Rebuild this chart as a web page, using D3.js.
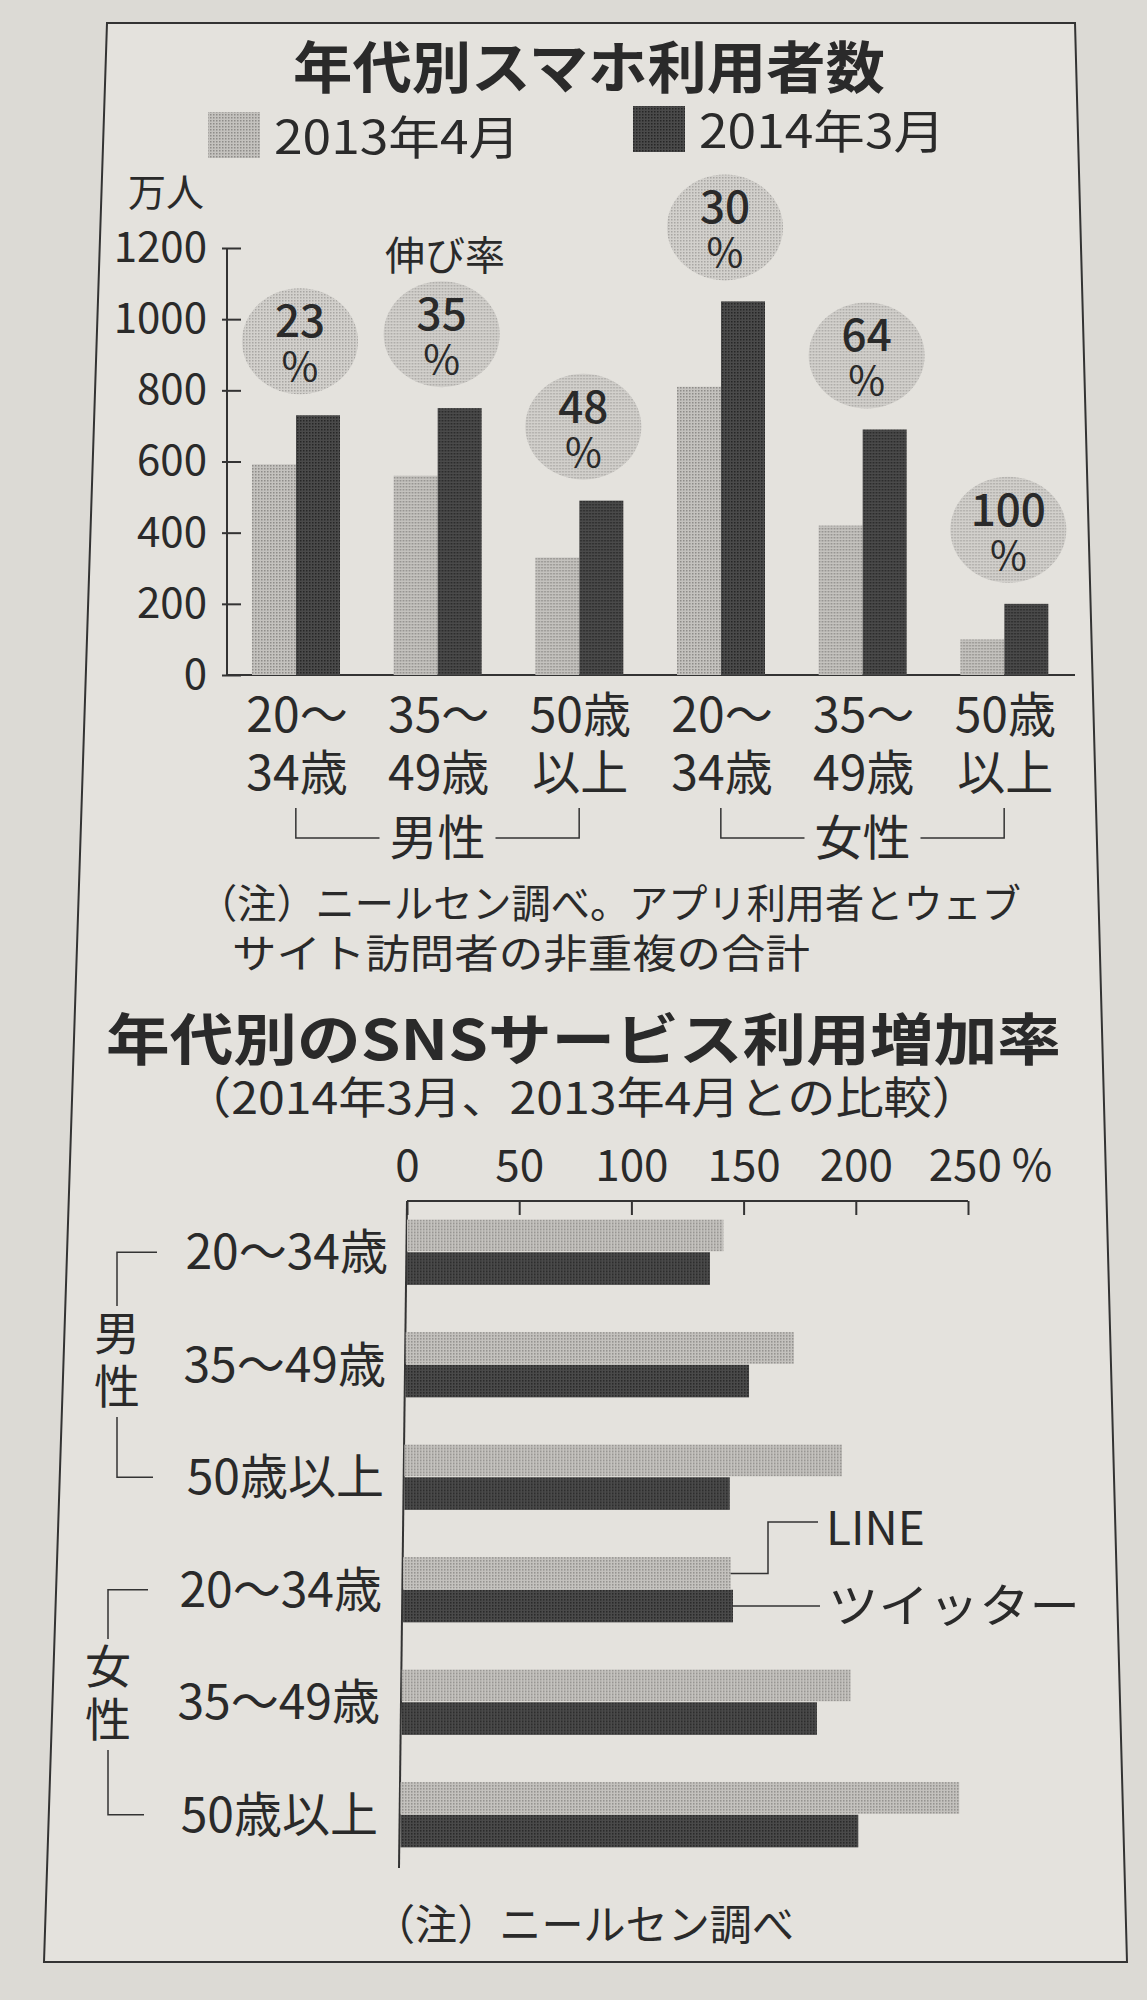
<!DOCTYPE html>
<html>
<head>
<meta charset="utf-8">
<script src="https://cdn.jsdelivr.net/npm/d3@7"></script>
<style>
  body { margin: 0; background: #dcdad5; }
  svg { display: block; }
  text { font-family: "Noto Sans CJK JP", "Noto Sans", sans-serif; fill: #2a2a2a; }
</style>
</head>
<body>
<svg id="chart" width="1147" height="2000"></svg>
<script>
  // data: top chart
  var ageGroups = ['20～|34歳', '35～|49歳', '50歳|以上', '20～|34歳', '35～|49歳', '50歳|以上'];
  var users2013 = [592, 560, 330, 810, 420, 100];
  var users2014 = [730, 750, 490, 1050, 690, 200];
  var growthRates = [23, 35, 48, 30, 64, 100];
  var yTicks = [0, 200, 400, 600, 800, 1000, 1200];
  var legendLabels = ['2013年4月', '2014年3月'];

  // data: bottom chart
  var snsAges = ['20～34歳', '35～49歳', '50歳以上', '20～34歳', '35～49歳', '50歳以上'];
  var lineRates = [141, 173, 195, 146, 200, 249];
  var twitterRates = [135, 153, 145, 147, 185, 204];
  var xTicks = [0, 50, 100, 150, 200, 250];

  var svg = d3.select('#chart');
  var defs = svg.append('defs');

  function dotPattern(id, bg, dot) {
    var p = defs.append('pattern').attr('id', id)
      .attr('width', 3).attr('height', 3).attr('patternUnits', 'userSpaceOnUse');
    p.append('rect').attr('width', 3).attr('height', 3).attr('fill', bg);
    p.append('rect').attr('width', 1.5).attr('height', 1.5).attr('fill', dot);
  }
  dotPattern('light', '#c4c2be', '#8e8c89');
  dotPattern('dark', '#4a4a4a', '#262626');
  dotPattern('circle', '#d2d0cc', '#a8a6a3');

  // frame (photo is slightly skewed)
  svg.append('path')
    .attr('d', 'M107,23 L1075,23 L1127,1962 L44,1962 Z')
    .attr('fill', '#e4e2dd').attr('stroke', '#333').attr('stroke-width', 2);

  // ---------- top chart ----------
  svg.append('text').attr('x', 293).attr('y', 88)
    .attr('font-size', 56).attr('font-weight', 700)
    .attr('textLength', 592).attr('lengthAdjust', 'spacingAndGlyphs')
    .text('年代別スマホ利用者数');

  var legendPos = [{ sx: 208, sy: 112, tx: 274 }, { sx: 633, sy: 106, tx: 699 }];
  legendPos.forEach(function (p, i) {
    svg.append('rect').attr('x', p.sx).attr('y', p.sy).attr('width', 52).attr('height', 46)
      .attr('fill', i === 0 ? 'url(#light)' : 'url(#dark)');
    svg.append('text').attr('x', p.tx).attr('y', p.sy + 42)
      .attr('font-size', 46).attr('textLength', 246).attr('lengthAdjust', 'spacingAndGlyphs')
      .text(legendLabels[i]);
  });

  var x0 = d3.scaleBand().domain(d3.range(ageGroups.length)).range([225, 1075]);
  var x1 = d3.scaleBand().domain([0, 1]).range([27, 115]);
  var y = d3.scaleLinear().domain([0, 1200]).range([675, 248]);

  var yAxis = svg.append('g').attr('transform', 'translate(227,0)')
    .call(d3.axisLeft(y).tickValues(yTicks).tickFormat(d3.format('d')).tickSize(0).tickPadding(20));
  yAxis.select('.domain').remove();
  yAxis.append('line').attr('y1', 248).attr('y2', 675).attr('stroke', '#333').attr('stroke-width', 2);
  yAxis.selectAll('.tick line').attr('x1', -5).attr('x2', 14)
    .attr('stroke', '#333').attr('stroke-width', 2);
  yAxis.selectAll('.tick text').attr('font-size', 42).attr('fill', '#2a2a2a')
    .attr('font-family', '"Noto Sans CJK JP", sans-serif');

  svg.append('line').attr('x1', 227).attr('x2', 1075).attr('y1', 675).attr('y2', 675)
    .attr('stroke', '#333').attr('stroke-width', 2);

  svg.append('text').attr('x', 128).attr('y', 206).attr('font-size', 38).text('万人');
  svg.append('text').attr('x', 445).attr('y', 270).attr('text-anchor', 'middle')
    .attr('font-size', 40).text('伸び率');

  var groups = svg.append('g').selectAll('g').data(ageGroups).join('g')
    .attr('transform', function (d, i) { return 'translate(' + x0(i) + ',0)'; });

  groups.append('rect')
    .attr('x', x1(0)).attr('width', x1.bandwidth())
    .attr('y', function (d, i) { return y(users2013[i]); })
    .attr('height', function (d, i) { return y(0) - y(users2013[i]); })
    .attr('fill', 'url(#light)');
  groups.append('rect')
    .attr('x', x1(1)).attr('width', x1.bandwidth())
    .attr('y', function (d, i) { return y(users2014[i]); })
    .attr('height', function (d, i) { return y(0) - y(users2014[i]); })
    .attr('fill', 'url(#dark)');

  groups.each(function (d, i) {
    var g = d3.select(this);
    var cx = x1(1) + 4;
    var cy = y(users2014[i]) - 74;
    g.append('ellipse').attr('cx', cx).attr('cy', cy).attr('rx', 58).attr('ry', 53)
      .attr('fill', 'url(#circle)');
    g.append('text').attr('x', cx).attr('y', cy - 4).attr('text-anchor', 'middle')
      .attr('font-size', 44).attr('font-weight', 500).text(growthRates[i]);
    g.append('text').attr('x', cx).attr('y', cy + 40).attr('text-anchor', 'middle')
      .attr('font-size', 40).text('%');
    var lines = d.split('|');
    g.append('text').attr('x', 72).attr('y', 732).attr('text-anchor', 'middle')
      .attr('font-size', 48).text(lines[0]);
    g.append('text').attr('x', 72).attr('y', 790).attr('text-anchor', 'middle')
      .attr('font-size', 48).text(lines[1]);
  });

  function bracketH(xa, xb, yb, label) {
    var mid = (xa + xb) / 2;
    var path = svg.append('g');
    path.append('path')
      .attr('d', 'M' + xa + ',808V838H' + (mid - 58) + 'M' + (mid + 58) + ',838H' + xb + 'V808')
      .attr('fill', 'none').attr('stroke', '#333').attr('stroke-width', 1.5);
    path.append('text').attr('x', mid).attr('y', yb).attr('text-anchor', 'middle')
      .attr('font-size', 48).text(label);
  }
  var half0 = x0.bandwidth() / 2;
  bracketH(x0(0) + half0, x0(2) + half0, 855, '男性');
  bracketH(x0(3) + half0, x0(5) + half0, 855, '女性');

  svg.append('text').attr('x', 198).attr('y', 918).attr('font-size', 40)
    .attr('textLength', 823).attr('lengthAdjust', 'spacingAndGlyphs')
    .text('（注）ニールセン調べ。アプリ利用者とウェブ');
  svg.append('text').attr('x', 232).attr('y', 968).attr('font-size', 40)
    .attr('textLength', 578).attr('lengthAdjust', 'spacingAndGlyphs')
    .text('サイト訪問者の非重複の合計');

  // ---------- bottom chart ----------
  svg.append('text').attr('x', 106).attr('y', 1060)
    .attr('font-size', 56).attr('font-weight', 700)
    .attr('textLength', 955).attr('lengthAdjust', 'spacingAndGlyphs')
    .text('年代別のSNSサービス利用増加率');
  svg.append('text').attr('x', 183).attr('y', 1114).attr('font-size', 44)
    .attr('textLength', 797).attr('lengthAdjust', 'spacingAndGlyphs')
    .text('（2014年3月、2013年4月との比較）');

  var xs = d3.scaleLinear().domain([0, 250]).range([407, 968]);
  var ys = d3.scaleBand().domain(d3.range(snsAges.length)).range([1196, 1871])
    .paddingInner(0.42).paddingOuter(0.21);

  var xAxis = svg.append('g').attr('transform', 'translate(0,1201)')
    .call(d3.axisTop(xs).tickValues(xTicks).tickSize(0).tickPadding(20)
      .tickFormat(function (d) { return d === 250 ? '250 %' : d; }));
  xAxis.select('.domain').remove();
  xAxis.selectAll('.tick text').attr('font-size', 44).attr('fill', '#2a2a2a')
    .attr('font-family', '"Noto Sans CJK JP", sans-serif')
    .attr('dx', function (d) { return d === 250 ? 22 : 0; });
  xAxis.append('line').attr('x1', 407).attr('x2', 968).attr('stroke', '#333').attr('stroke-width', 2);
  xAxis.selectAll('.tick').append('line').attr('y1', 0).attr('y2', 14)
    .attr('stroke', '#333').attr('stroke-width', 2);
  svg.append('line').attr('x1', 407).attr('x2', 399).attr('y1', 1201).attr('y2', 1868)
    .attr('stroke', '#333').attr('stroke-width', 2);

  var half = ys.bandwidth() / 2;
  var rows = svg.append('g').selectAll('g').data(snsAges).join('g')
    .attr('transform', function (d, i) { return 'translate(0,' + ys(i) + ')'; });
  rows.append('rect').attr('x', function (d, i) { return xs(0) - i * 1.3; }).attr('y', 0)
    .attr('height', half - 1)
    .attr('width', function (d, i) { return xs(lineRates[i]) - xs(0); })
    .attr('fill', 'url(#light)');
  rows.append('rect').attr('x', function (d, i) { return xs(0) - i * 1.3; }).attr('y', half)
    .attr('height', half)
    .attr('width', function (d, i) { return xs(twitterRates[i]) - xs(0); })
    .attr('fill', 'url(#dark)');
  rows.append('text').attr('x', function (d, i) { return 388 - i * 2; }).attr('y', half + 17)
    .attr('text-anchor', 'end').attr('font-size', 48).text(function (d) { return d; });

  function bracketV(xv, top, bot, chars, yc) {
    svg.append('path')
      .attr('d', 'M' + (xv + 40) + ',' + top + 'H' + xv + 'V' + (yc[0] - 44) +
        'M' + xv + ',' + (yc[1] + 14) + 'V' + bot + 'H' + (xv + 36))
      .attr('fill', 'none').attr('stroke', '#333').attr('stroke-width', 1.5);
    chars.forEach(function (c, k) {
      svg.append('text').attr('x', xv).attr('y', yc[k]).attr('text-anchor', 'middle')
        .attr('font-size', 46).text(c);
    });
  }
  bracketV(117, ys(0) + half, ys(2) + half, ['男', '性'], [1350, 1403]);
  bracketV(108, ys(3) + half, ys(5) + half, ['女', '性'], [1683, 1736]);

  // series callouts
  var cy1 = ys(3) + half / 2, cy2 = ys(3) + half * 1.5;
  var lx = xs(lineRates[3]) - 4, tx = xs(twitterRates[3]) - 4;
  svg.append('path').attr('d', 'M' + lx + ',' + cy1 + 'H768V1522H818')
    .attr('fill', 'none').attr('stroke', '#333').attr('stroke-width', 1.5);
  svg.append('path').attr('d', 'M' + tx + ',' + cy2 + 'H820')
    .attr('fill', 'none').attr('stroke', '#333').attr('stroke-width', 1.5);
  svg.append('text').attr('x', 826).attr('y', 1545).attr('font-size', 46).text('LINE');
  svg.append('text').attr('x', 828).attr('y', 1622).attr('font-size', 46)
    .attr('textLength', 252).attr('lengthAdjust', 'spacingAndGlyphs').text('ツイッター');

  svg.append('text').attr('x', 373).attr('y', 1940).attr('font-size', 42)
    .attr('textLength', 421).attr('lengthAdjust', 'spacingAndGlyphs')
    .text('（注）ニールセン調べ');
</script>
</body>
</html>
